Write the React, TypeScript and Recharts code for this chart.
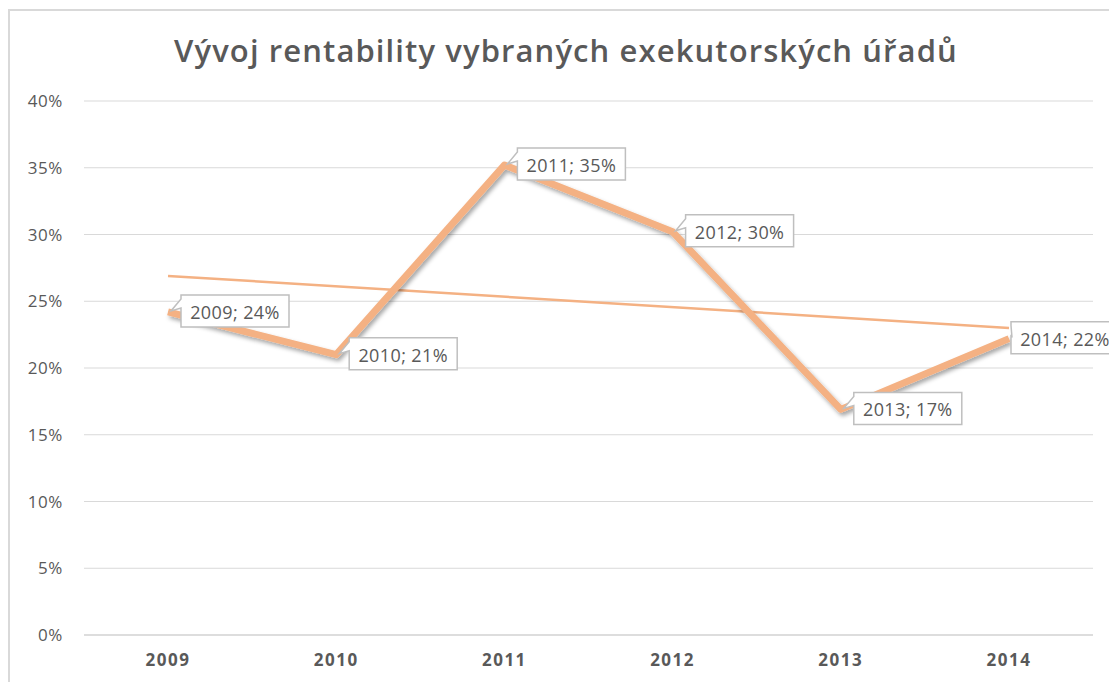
import { LineChart, Line, XAxis, YAxis, CartesianGrid } from 'recharts'

const years = ['2009', '2010', '2011', '2012', '2013', '2014']
const rentabilita = [24.2, 21.0, 35.2, 30.2, 16.9, 22.2]
// lineární trend – odečteny jen konce přímky
const trend = [26.9, null, null, null, null, 23.0]
const yTicks = [0, 5, 10, 15, 20, 25, 30, 35, 40]

const data = years.map((rok, i) => ({ rok, rentabilita: rentabilita[i], trend: trend[i] }))

const ORANGE = '#f4b183'
const TEXT = '#595959'
const FONT = '"Open Sans", Lato, sans-serif'

function Bublina(props: any) {
  const { x, y, index, value } = props
  if (x == null || y == null) return null
  const last = index === years.length - 1
  const w = 108
  const h = 32
  const bx = x + (last ? 2 : 13)
  const by = y - 17
  const d = `M${bx},${by} H${bx + w} V${by + h} H${bx} V${by + 13} L${x + 3},${y - 1} L${bx},${by + 4} Z`
  return (
    <g>
      <path d={d} fill="#fff" stroke="#bfbfbf" strokeWidth={1.5} />
      <text x={bx + w / 2} y={by + h / 2 + 1} textAnchor="middle" dominantBaseline="central"
        fill={TEXT} fontSize={18} fontFamily={FONT} letterSpacing={0.4}>
        {`${years[index]}; ${Math.round(value)}%`}
      </text>
    </g>
  )
}

export default function App() {
  return (
    <div style={{
      position: 'absolute', left: 8, top: 9, width: 1101, height: 673, boxSizing: 'border-box',
      borderTop: '2px solid #d9d9d9', borderLeft: '2px solid #d9d9d9', background: '#fff',
    }}>
      <div style={{
        position: 'absolute', left: 0, width: 1112, top: 18, textAlign: 'center',
        fontFamily: FONT, fontWeight: 600, fontSize: 31, color: TEXT, letterSpacing: 1.1,
      }}>
        Vývoj rentability vybraných exekutorských úřadů
      </div>
      <LineChart width={1099} height={671} data={data}
        margin={{ top: 90, right: 16, bottom: 0, left: 0 }}>
        <defs>
          <filter id="stin" x="-10%" y="-10%" width="120%" height="130%">
            <feDropShadow dx={2} dy={3} stdDeviation={2} floodColor="#000" floodOpacity={0.35} />
          </filter>
        </defs>
        <CartesianGrid vertical={false} stroke="#d9d9d9" strokeWidth={1} />
        <XAxis dataKey="rok" padding={{ left: 84, right: 84 }} height={47}
          axisLine={{ stroke: '#d9d9d9', strokeWidth: 1.5 }} tickLine={false} tickSize={6} tickMargin={13}
          tick={{ fill: TEXT, fontSize: 17, fontWeight: 700, fontFamily: FONT, letterSpacing: 1.5 }} />
        <YAxis domain={[0, 40]} ticks={yTicks} width={74} axisLine={false} tickLine={false}
          tickSize={6} tickMargin={15} tickFormatter={(v: number) => `${v}%`}
          tick={{ fill: TEXT, fontSize: 17, fontFamily: FONT, letterSpacing: 0.6 }} />
        <Line type="linear" dataKey="trend" stroke={ORANGE} strokeWidth={2.5} dot={false}
          connectNulls isAnimationActive={false} />
        <Line type="linear" dataKey="rentabilita" stroke={ORANGE} strokeWidth={7} dot={false}
          strokeLinejoin="round" filter="url(#stin)" label={<Bublina />} isAnimationActive={false} />
      </LineChart>
    </div>
  )
}
